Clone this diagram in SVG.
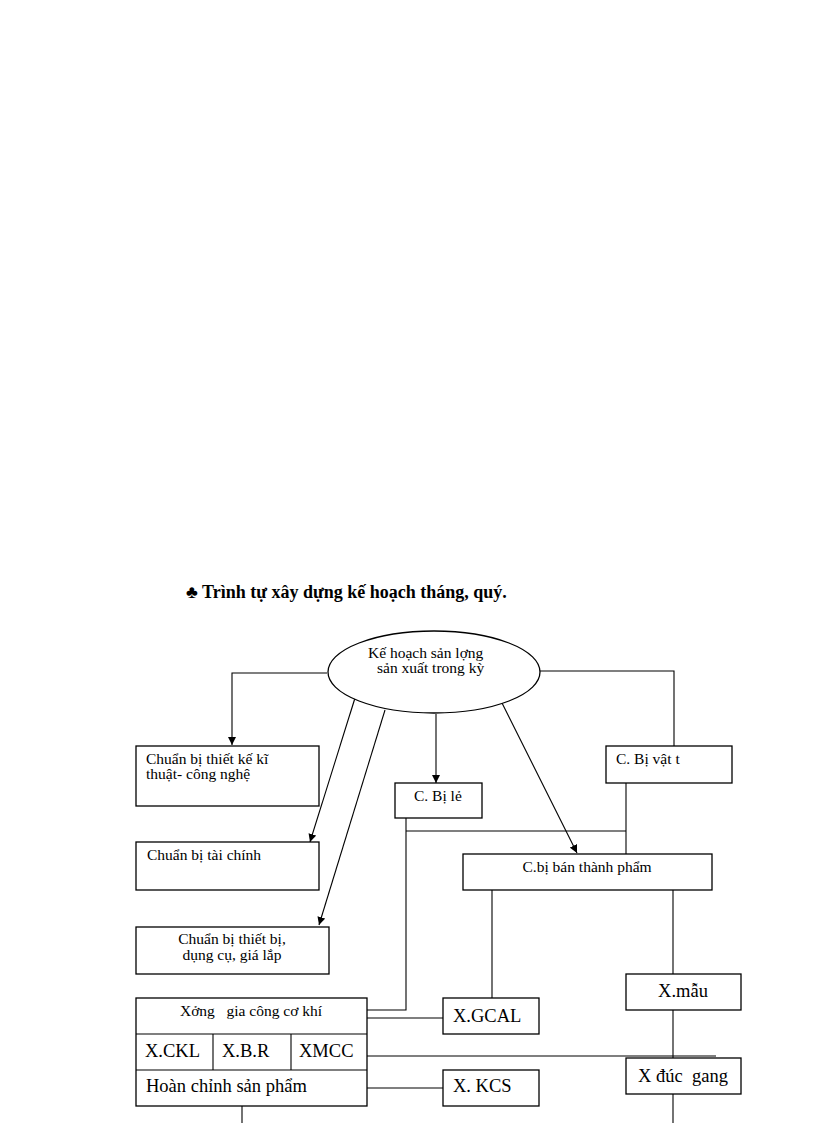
<svg xmlns="http://www.w3.org/2000/svg" width="816" height="1123" viewBox="0 0 816 1123">
<defs>
<marker id="ah" viewBox="0 0 10 10" refX="10" refY="5" markerWidth="8" markerHeight="8" markerUnits="userSpaceOnUse" orient="auto">
<path d="M0,0 L10,5 L0,10 z" fill="#000"/>
</marker>
<style>
.b{fill:#fff;stroke:#000;stroke-width:1.3}
.c{fill:none;stroke:#000;stroke-width:1.1}
.t{font-family:"Liberation Serif","Times New Roman",serif;font-size:15.5px;fill:#000}
.L{font-family:"Liberation Serif","Times New Roman",serif;font-size:18.5px;fill:#000}
</style>
</defs>
<rect width="816" height="1123" fill="#fff"/>
<text x="186" y="598" font-family="Liberation Serif, serif" font-size="18" font-weight="bold">♣ Trình tự xây dựng kế hoạch tháng, quý.</text>

<g id="connectors">
<polyline class="c" points="327,673 232,673 232,745" marker-end="url(#ah)"/>
<polyline class="c" points="540,671 674,671 674,746"/>
<line class="c" x1="355" y1="698" x2="310" y2="842" marker-end="url(#ah)"/>
<line class="c" x1="385" y1="710" x2="319" y2="925" marker-end="url(#ah)"/>
<line class="c" x1="436" y1="714" x2="436" y2="783" marker-end="url(#ah)"/>
<line class="c" x1="501" y1="701" x2="577" y2="853" marker-end="url(#ah)"/>
<line class="c" x1="626" y1="783" x2="626" y2="854"/>
<line class="c" x1="406" y1="831" x2="626" y2="831"/>
<polyline class="c" points="406,818 406,1010 367,1010"/>
<line class="c" x1="492" y1="890" x2="492" y2="998"/>
<line class="c" x1="673" y1="890" x2="673" y2="974"/>
<line class="c" x1="673" y1="1010" x2="673" y2="1058"/>
<line class="c" x1="673" y1="1094" x2="673" y2="1123"/>
<line class="c" x1="367" y1="1018" x2="443" y2="1018"/>
<line class="c" x1="367" y1="1056" x2="716" y2="1056"/>
<line class="c" x1="367" y1="1088" x2="443" y2="1088"/>
<line class="c" x1="242" y1="1106" x2="242" y2="1123"/>
</g>

<g id="n-kehoach">
<ellipse class="b" cx="434" cy="672" rx="106" ry="41"/>
<text class="t" x="368" y="658">Kế hoạch sản lợng</text>
<text class="t" x="377" y="673">sản xuất trong kỳ</text>
</g>
<g id="n-thietke">
<rect class="b" x="136" y="746" width="183" height="60"/>
<text class="t" x="146" y="764">Chuẩn bị thiết kế kĩ</text>
<text class="t" x="146" y="779">thuật- công nghệ</text>
</g>
<g id="n-taichinh">
<rect class="b" x="136" y="842" width="183" height="48"/>
<text class="t" x="147" y="860">Chuẩn bị tài chính</text>
</g>
<g id="n-thietbi">
<rect class="b" x="136" y="927" width="193" height="47"/>
<text class="t" x="232" y="944" text-anchor="middle">Chuẩn bị thiết bị,</text>
<text class="t" x="232" y="960" text-anchor="middle">dụng cụ, giá lắp</text>
</g>
<g id="n-bile">
<rect class="b" x="395" y="783" width="87" height="35"/>
<text class="t" x="414" y="801">C. Bị lẻ</text>
</g>
<g id="n-vattu">
<rect class="b" x="606" y="746" width="126" height="37"/>
<text class="t" x="616" y="764">C. Bị vật t</text>
</g>
<g id="n-banthanhpham">
<rect class="b" x="463" y="854" width="249" height="36"/>
<text class="t" x="587" y="872" text-anchor="middle">C.bị bán thành phẩm</text>
</g>
<g id="n-xuong">
<rect class="b" x="136" y="998" width="231" height="108"/>
<line class="c" x1="136" y1="1034" x2="367" y2="1034"/>
<line class="c" x1="136" y1="1070" x2="367" y2="1070"/>
<line class="c" x1="213" y1="1034" x2="213" y2="1070"/>
<line class="c" x1="291" y1="1034" x2="291" y2="1070"/>
<text class="t" x="251" y="1016" text-anchor="middle">Xởng&#160;&#160; gia công cơ khí</text>
<text class="L" x="145" y="1057">X.CKL</text>
<text class="L" x="222" y="1057">X.B.R</text>
<text class="L" x="299" y="1057">XMCC</text>
<text class="L" x="146" y="1092">Hoàn chỉnh sản phẩm</text>
</g>
<g id="n-gcal">
<rect class="b" x="443" y="998" width="96" height="36"/>
<text class="L" x="453" y="1022">X.GCAL</text>
</g>
<g id="n-kcs">
<rect class="b" x="443" y="1070" width="96" height="36"/>
<text class="L" x="453" y="1092">X. KCS</text>
</g>
<g id="n-mau">
<rect class="b" x="626" y="974" width="115" height="36"/>
<text class="L" x="683" y="997" text-anchor="middle">X.mẫu</text>
</g>
<g id="n-ducgang">
<rect class="b" x="626" y="1058" width="115" height="36"/>
<text class="L" x="638" y="1082">X đúc&#160; gang</text>
</g>
</svg>
